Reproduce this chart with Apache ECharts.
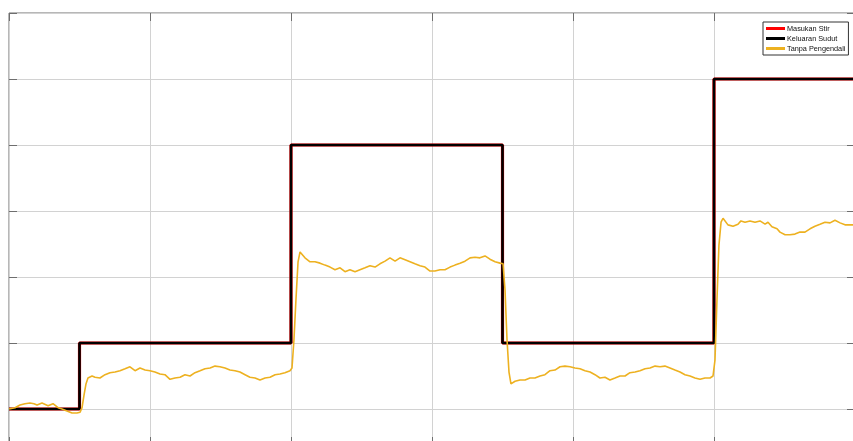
<!DOCTYPE html>
<html>
<head>
<meta charset="utf-8">
<title>Respon Sudut</title>
<script src="https://cdn.jsdelivr.net/npm/echarts@6/dist/echarts.min.js"></script>
<style>
  html, body { margin: 0; padding: 0; background: #fff; overflow: hidden; }
  /* area plot lebih besar dari jendela: tepi kanan & bawah terpotong seperti gambar asli */
  #main { width: 858px; height: 478px; }
</style>
</head>
<body>
<div id="main"></div>
<script>
// nama seri (legenda)
var seriesNames = ['Masukan Stir', 'Keluaran Sudut', 'Tanpa Pengendali'];

// sinyal tangga: masukan stir dan keluaran sudut (sama)
var stepTimes  = [0, 5, 5, 20, 20, 35, 35, 50, 50, 60];
var stepValues = [0, 0, 1, 1, 4, 4, 1, 1, 5, 5];

// respon tanpa pengendali
var openTimes = [
  0, 0.43, 0.78, 1.13, 1.49, 1.77, 1.99, 2.34, 2.77, 3.12, 3.48, 3.76, 4.11, 4.47, 4.82, 5.04,
  5.18, 5.32, 5.46, 5.6, 5.89, 6.1, 6.45, 6.81, 7.16, 7.52, 7.87, 8.23, 8.58, 8.94, 9.29, 9.65,
  10.0, 10.35, 10.71, 11.06, 11.42, 11.77, 12.13, 12.48, 12.84, 13.19, 13.55, 13.9, 14.26, 14.61,
  14.96, 15.32, 15.67, 16.03, 16.38, 16.74, 17.09, 17.45, 17.8, 18.16, 18.51, 18.87, 19.22, 19.57,
  19.93, 20.07, 20.21, 20.35, 20.5, 20.64, 20.78, 20.99, 21.35, 21.7, 22.06, 22.41, 22.77, 23.12,
  23.48, 23.83, 24.18, 24.54, 24.89, 25.25, 25.6, 25.96, 26.31, 26.67, 27.02, 27.38, 27.73, 28.09,
  28.44, 28.79, 29.15, 29.5, 29.86, 30.21, 30.57, 30.92, 31.28, 31.63, 31.99, 32.34, 32.7, 33.05,
  33.4, 33.76, 34.11, 34.47, 34.82, 35.04, 35.18, 35.32, 35.46, 35.6, 35.74, 35.89, 36.24, 36.6,
  36.95, 37.3, 37.66, 38.01, 38.37, 38.72, 39.08, 39.43, 39.79, 40.14, 40.5, 40.85, 41.21, 41.56,
  41.91, 42.27, 42.62, 42.98, 43.33, 43.69, 44.04, 44.4, 44.75, 45.11, 45.46, 45.82, 46.17, 46.52,
  46.88, 47.23, 47.59, 47.94, 48.3, 48.65, 49.01, 49.36, 49.72, 49.93, 50.07, 50.21, 50.35, 50.5,
  50.64, 50.78, 50.99, 51.35, 51.7, 51.91, 52.2, 52.55, 52.91, 53.26, 53.62, 53.83, 54.11, 54.47,
  54.68, 55.04, 55.39, 55.74, 56.1, 56.45, 56.81, 57.16, 57.52, 57.87, 58.23, 58.58, 58.94, 59.29,
  59.65, 60
];
var openValues = [
  0, 0.02, 0.06, 0.08, 0.09, 0.08, 0.06, 0.09, 0.05, 0.08, 0.02, 0, -0.03, -0.06, -0.06, -0.05,
  0.02, 0.21, 0.38, 0.47, 0.5, 0.48, 0.47, 0.52, 0.55, 0.56, 0.58, 0.61, 0.64, 0.58, 0.62, 0.59,
  0.58, 0.56, 0.53, 0.52, 0.45, 0.47, 0.48, 0.52, 0.5, 0.55, 0.58, 0.61, 0.62, 0.65,
  0.64, 0.62, 0.59, 0.58, 0.56, 0.52, 0.48, 0.47, 0.44, 0.47, 0.48, 0.52, 0.53, 0.55,
  0.58, 0.62, 1.05, 1.65, 2.23, 2.38, 2.39, 2.29, 2.23, 2.23, 2.21, 2.18, 2.15, 2.11,
  2.14, 2.08, 2.11, 2.08, 2.11, 2.14, 2.17, 2.15, 2.2, 2.24, 2.29, 2.24, 2.29, 2.26,
  2.23, 2.2, 2.17, 2.15, 2.09, 2.09, 2.11, 2.11, 2.15, 2.18, 2.21, 2.24, 2.29, 2.3,
  2.29, 2.32, 2.27, 2.23, 2.21, 2.2, 1.8, 1.05, 0.56, 0.38, 0.36, 0.42, 0.44, 0.44,
  0.47, 0.47, 0.5, 0.52, 0.58, 0.59, 0.64, 0.65, 0.64, 0.62, 0.61, 0.58, 0.56, 0.52,
  0.47, 0.48, 0.44, 0.47, 0.5, 0.5, 0.55, 0.56, 0.58, 0.61, 0.62, 0.65, 0.64, 0.65,
  0.62, 0.59, 0.56, 0.52, 0.5, 0.47, 0.45, 0.47, 0.47, 0.5, 0.74, 1.65, 2.48, 2.83,
  2.89, 2.86, 2.79, 2.77, 2.8, 2.85, 2.83, 2.85, 2.83, 2.85, 2.8, 2.83, 2.76, 2.73,
  2.68, 2.64, 2.64, 2.65, 2.68, 2.68, 2.73, 2.77, 2.8, 2.83, 2.82, 2.86, 2.82, 2.79,
  2.79, 2.79
];

function pairs(xs, ys) {
  return xs.map(function (x, i) { return [x, ys[i]]; });
}

var chart = echarts.init(document.getElementById('main'));

var gridLine = { show: true, lineStyle: { color: '#d2d2d2', width: 1 } };
var tick = { show: true, inside: true, length: 8, lineStyle: { color: '#6e6e6e' } };
var noLabel = { show: false };
var noLine = { show: false, onZero: false };

chart.setOption({
  animation: false,
  textStyle: { fontFamily: 'Liberation Sans, Arial, sans-serif' },
  grid: [
    {
      left: 9, top: 13, width: 846, height: 462,
      show: true, borderColor: '#6e6e6e', borderWidth: 1
    },
    // hanya untuk tick sumbu bawah yang terlihat di tepi bawah gambar
    { left: 9, top: 13, width: 846, height: 432, show: false }
  ],
  legend: {
    data: seriesNames,
    orient: 'vertical',
    left: 763, top: 22,
    align: 'left',
    itemWidth: 19, itemHeight: 3, itemGap: 3,
    padding: [3, 3, 3, 3],
    icon: 'rect',
    backgroundColor: '#fff',
    borderColor: '#333', borderWidth: 1,
    textStyle: { fontSize: 7.3, color: '#111', padding: [0, 0, 0, -3] }
  },
  xAxis: [
    {
      type: 'value', gridIndex: 0, min: 0, max: 60, interval: 10,
      axisLine: noLine, axisTick: { show: false }, axisLabel: noLabel,
      splitLine: gridLine
    },
    {
      type: 'value', gridIndex: 0, position: 'top', min: 0, max: 60, interval: 10,
      axisLine: noLine, axisTick: tick, axisLabel: noLabel,
      splitLine: { show: false }
    },
    {
      type: 'value', gridIndex: 1, position: 'bottom', min: 0, max: 60, interval: 10,
      axisLine: noLine, axisTick: tick, axisLabel: noLabel,
      splitLine: { show: false }
    }
  ],
  yAxis: [
    {
      type: 'value', gridIndex: 0, min: -1, max: 6, interval: 1,
      axisLine: noLine, axisTick: tick, axisLabel: noLabel,
      splitLine: gridLine
    },
    {
      type: 'value', gridIndex: 0, position: 'right', min: -1, max: 6, interval: 1,
      axisLine: noLine, axisTick: tick, axisLabel: noLabel,
      splitLine: { show: false }
    },
    {
      type: 'value', gridIndex: 1, min: 0, max: 1, show: false
    }
  ],
  series: [
    {
      name: seriesNames[0], type: 'line', data: pairs(stepTimes, stepValues),
      showSymbol: false, color: '#ff0000',
      lineStyle: { width: 3.2, color: '#ff0000' }, z: 2
    },
    {
      name: seriesNames[1], type: 'line', data: pairs(stepTimes, stepValues),
      showSymbol: false, color: '#000000',
      lineStyle: { width: 2.6, color: '#000000' }, z: 3
    },
    {
      name: seriesNames[2], type: 'line', data: pairs(openTimes, openValues),
      showSymbol: false, color: '#edb120',
      lineStyle: { width: 1.6, color: '#edb120' }, z: 4
    }
  ]
});
</script>
</body>
</html>
